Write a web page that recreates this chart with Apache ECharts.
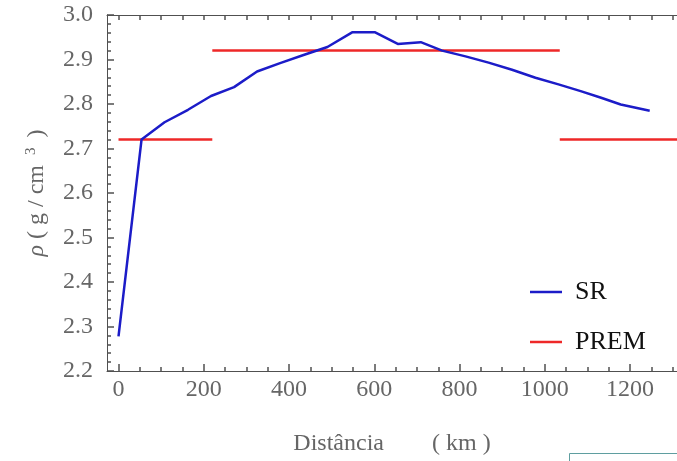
<!DOCTYPE html>
<html>
<head>
<meta charset="utf-8">
<script src="https://cdn.jsdelivr.net/npm/echarts@6/dist/echarts.min.js"></script>
<style>
html,body{margin:0;padding:0;background:#fff;}
#chart{width:677px;height:461px;}
</style>
</head>
<body>
<div id="chart"></div>
<script>
// ---- data ----
const distanceKm = [0, 54, 108, 163, 217, 271, 325, 379, 434, 490, 548, 602, 655, 709, 759, 814, 868, 923, 978, 1032, 1084, 1132, 1178, 1246];
const srDensity  = [2.278, 2.72, 2.759, 2.787, 2.818, 2.838, 2.873, 2.892, 2.910, 2.928, 2.961, 2.961, 2.935, 2.939, 2.920, 2.907, 2.893, 2.877, 2.859, 2.844, 2.829, 2.814, 2.799, 2.785];

const premFrom  = [0, 220, 1035];
const premTo    = [220, 1035, 1330];
const premValue = [2.72, 2.92, 2.72];

const xTickLabels = [0, 200, 400, 600, 800, 1000, 1200];
const xMinorTicks = [0, 50, 100, 150, 200, 250, 300, 350, 400, 450, 500, 550, 600, 650, 700, 750, 800, 850, 900, 950, 1000, 1050, 1100, 1150, 1200, 1250, 1300];
const yTickLabels = [2.2, 2.3, 2.4, 2.5, 2.6, 2.7, 2.8, 2.9, 3.0];

// ---- build series data ----
const srData = distanceKm.map((d, i) => [d, srDensity[i]]);
const premData = [];
premFrom.forEach((f, i) => {
  premData.push([f, premValue[i]]);
  premData.push([premTo[i], premValue[i]]);
  premData.push([premTo[i], '-']);
});

const FONT = 'Liberation Serif';
const GRAY = '#666666';
const AX = '#505050';
const XMIN = -27, XMAX = 1310;

const tickAxis = (pos, len, values, showLine) => ({
  type: 'value', min: XMIN, max: XMAX, position: pos,
  axisLine: {show: showLine, onZero: false, lineStyle: {color: AX, width: 1}},
  axisTick: {show: true, inside: true, length: len, customValues: values, lineStyle: {color: AX, width: 1.5}},
  axisLabel: {show: false},
  splitLine: {show: false}
});

const chart = echarts.init(document.getElementById('chart'));
chart.setOption({
  animation: false,
  grid: {left: 107, right: 0, top: 15, bottom: 88},
  legend: {
    orient: 'vertical',
    left: 525,
    top: 274,
    icon: 'rect',
    itemWidth: 32,
    itemHeight: 2.5,
    itemGap: 24,
    data: ['SR', 'PREM'],
    textStyle: {fontFamily: FONT, fontSize: 26, color: '#111', padding: [0, 0, 0, 8], lineHeight: 26}
  },
  xAxis: [
    {
      type: 'value', min: XMIN, max: XMAX, position: 'bottom',
      name: 'Distância        ( km )', nameLocation: 'middle', nameGap: 61,
      nameTextStyle: {fontFamily: FONT, fontSize: 24, color: GRAY},
      axisLine: {show: true, onZero: false, lineStyle: {color: AX, width: 1}},
      axisTick: {show: true, inside: true, length: 7, customValues: xTickLabels, lineStyle: {color: AX, width: 1.5}},
      axisLabel: {customValues: xTickLabels, margin: 7, fontFamily: FONT, fontSize: 24, color: GRAY,
                  formatter: v => String(v)},
      splitLine: {show: false}
    },
    tickAxis('bottom', 4, xMinorTicks, false),
    tickAxis('top', 5, xMinorTicks, true)
  ],
  yAxis: {
    type: 'value', min: 2.2, max: 3.0, interval: 0.1,
    name: '{i|ρ} ( g / cm {s|3} )', nameLocation: 'middle', nameRotate: 90, nameGap: 58,
    nameTextStyle: {
      fontFamily: FONT, fontSize: 24, color: GRAY,
      rich: {
        i: {fontFamily: FONT, fontStyle: 'italic', fontSize: 24, color: GRAY},
        s: {fontFamily: FONT, fontSize: 15, color: GRAY, verticalAlign: 'top', padding: [0, 4, 10, 4]}
      }
    },
    axisLine: {show: true, onZero: false, lineStyle: {color: AX, width: 1}},
    axisTick: {show: true, inside: true, length: 7, lineStyle: {color: AX, width: 1.5}},
    minorTick: {show: true, splitNumber: 5, length: 4, lineStyle: {color: AX, width: 1.5}},
    axisLabel: {
      margin: 14, fontFamily: FONT, fontSize: 24, color: GRAY,
      formatter: v => (Math.round(v * 10) / 10).toFixed(1)
    },
    splitLine: {show: false}
  },
  series: [
    {
      name: 'SR', type: 'line', xAxisIndex: 0, data: srData,
      symbol: 'none', lineStyle: {color: '#1c1cc8', width: 2.5}, itemStyle: {color: '#1c1cc8'},
      z: 3
    },
    {
      name: 'PREM', type: 'line', xAxisIndex: 0, data: premData, connectNulls: false,
      symbol: 'none', clip: true, lineStyle: {color: '#ee2828', width: 2.5}, itemStyle: {color: '#ee2828'},
      z: 2
    }
  ],
  graphic: [
    {type: 'rect', left: 569, top: 453, shape: {width: 120, height: 20}, style: {fill: '#ffffff', stroke: '#5f9ea0', lineWidth: 1}}
  ]
});
</script>
</body>
</html>
